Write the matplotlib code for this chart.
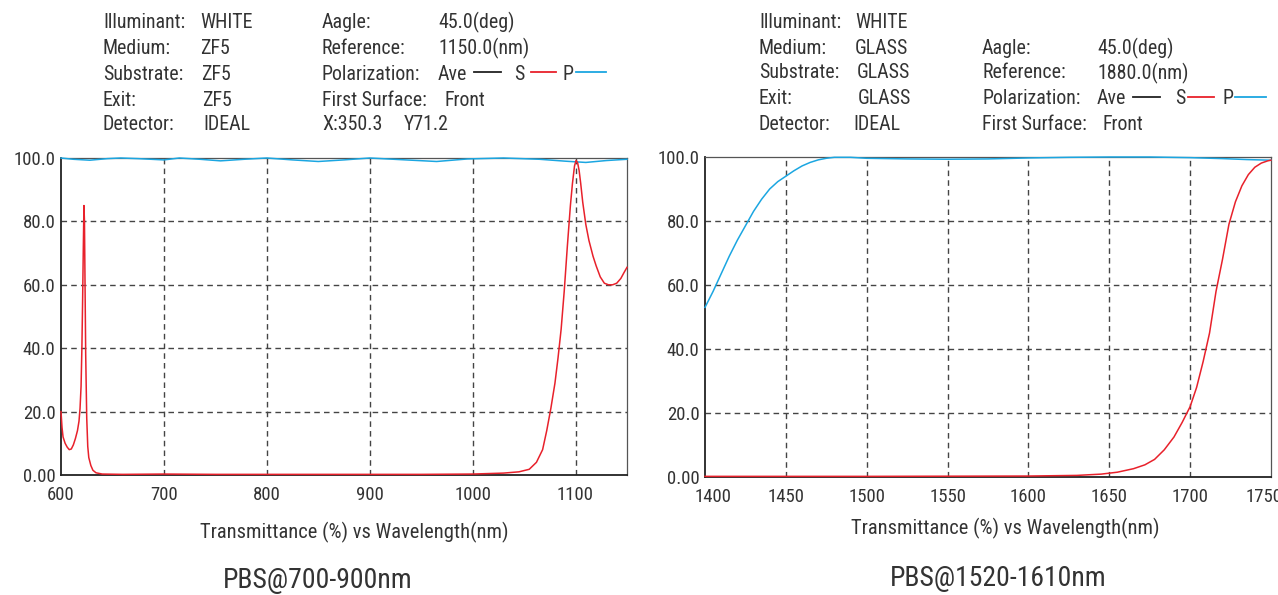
import numpy as np
import matplotlib
matplotlib.use("Agg")
import matplotlib.pyplot as plt
from matplotlib import font_manager
from matplotlib.lines import Line2D
from matplotlib.transforms import ScaledTranslation

# pick a narrow sans if one is around
names = {f.name for f in font_manager.fontManager.ttflist}
base = "DejaVu Sans"
for cand in ["Liberation Sans Narrow", "Roboto Condensed", "Open Sans Condensed", "DejaVu Sans"]:
    if cand in names:
        base = cand
        break
plt.rcParams["font.family"] = [base, "DejaVu Sans"]
if base == "DejaVu Sans":
    plt.rcParams["font.stretch"] = "condensed"

W, H = 1278, 595
TXT = "#333333"
RED = "#e8212b"
BLUE = "#1ba6e1"

# ---- left panel: PBS@700-900nm ----
wl_a_p = [600, 612, 628, 645, 658, 675, 700, 715, 735, 755, 778, 800, 825, 850,
          875, 900, 935, 965, 995, 1030, 1065, 1090, 1110, 1130, 1150]
t_a_p = [100, 99.6, 99.3, 99.8, 100, 99.8, 99.4, 100, 99.6, 99.1, 99.6, 100, 99.4, 98.9,
         99.4, 100, 99.4, 98.9, 99.7, 100, 99.6, 99.0, 98.6, 99.2, 99.6]
wl_a_s = [600, 601, 602, 604, 606, 608, 610, 612, 614, 616, 617.5, 618.5, 619.5, 620.3, 621,
          621.7, 622.3, 622.8, 623.3, 624, 625, 626, 627, 629, 631, 634, 640, 660, 700, 750,
          800, 850, 900, 950, 1000, 1030, 1045, 1055, 1062, 1068, 1072, 1076, 1080,
          1083, 1086, 1089, 1092, 1095, 1097, 1099, 1100.5, 1102, 1103.5, 1105, 1107, 1110,
          1113, 1117, 1120, 1124, 1128, 1132, 1136, 1140, 1144, 1147, 1150]
t_a_s = [20, 15, 12, 10, 8.8, 8.0, 8.2, 9.5, 11.5, 14, 17, 21, 28, 40, 55,
         72, 85, 80, 62, 38, 18, 9, 5.5, 3, 1.5, 0.7, 0.3, 0.2, 0.3, 0.2,
         0.2, 0.2, 0.2, 0.2, 0.3, 0.6, 1.0, 1.8, 4, 8, 14, 21, 29,
         37, 46, 58, 72, 85, 92, 97.5, 99.2, 98.5, 96, 92, 86, 79,
         74, 69, 66, 62.5, 60.5, 60, 60, 60.5, 62, 63.8, 65.5]

# ---- right panel: PBS@1520-1610nm ----
wl_b_p = [1400, 1405, 1410, 1415, 1420, 1425, 1430, 1435, 1440, 1445, 1450, 1455, 1460,
          1465, 1470, 1475, 1480, 1490, 1500, 1525, 1550, 1575, 1600, 1625, 1650, 1675,
          1700, 1720, 1735, 1750]
t_b_p = [53, 58, 63.5, 69, 74, 78.5, 83, 86.8, 90, 92.3, 94, 95.7, 97.2,
         98.3, 99.1, 99.6, 99.9, 99.9, 99.6, 99.4, 99.3, 99.4, 99.7, 99.9, 100, 100,
         99.8, 99.5, 99.2, 99.0]
wl_b_s = [1400, 1500, 1600, 1630, 1645, 1655, 1665, 1672, 1678, 1684, 1690, 1695, 1700,
          1704, 1708, 1712, 1716, 1720, 1724, 1728, 1732, 1736, 1740, 1744, 1748, 1750]
t_b_s = [0.2, 0.2, 0.3, 0.5, 0.9, 1.5, 2.6, 3.8, 5.5, 8.5, 12.5, 17, 22,
         28, 36, 45, 58, 68, 79, 86, 91, 94.5, 96.8, 98.1, 98.8, 99.0]

yticks = [0, 20, 40, 60, 80, 100]
ylabels = ["0.00", "20.0", "40.0", "60.0", "80.0", "100.0"]

left_info = [("Illuminant:", "WHITE", 200), ("Medium:", "ZF5", 200), ("Substrate:", "ZF5", 201),
             ("Exit:", "ZF5", 202), ("Detector:", "IDEAL", 203)]
right_info = [("Illuminant:", "WHITE", 855), ("Medium:", "GLASS", 855), ("Substrate:", "GLASS", 857),
              ("Exit:", "GLASS", 858), ("Detector:", "IDEAL", 853)]

fig = plt.figure(figsize=(W / 100, H / 100), dpi=100)


def px(x, y):
    return x / W, 1 - y / H


def put(x, y, s, size=14.3, **kw):
    fig.text(*px(x, y + 2), s, fontsize=size, color=TXT, va="center", ha=kw.pop("ha", "left"), **kw)


def pol_legend(x0, y, xs):
    put(x0, y, "Polarization:")
    ave, k0, k1, s_x, r0, r1, p_x, b0, b1 = xs
    put(ave, y, "Ave")
    put(s_x, y, "S")
    put(p_x, y, "P")
    for a, b, c in [(k0, k1, "#222222"), (r0, r1, RED), (b0, b1, BLUE)]:
        fig.add_artist(Line2D([a / W, b / W], [1 - y / H, 1 - y / H], color=c, lw=1.3,
                              transform=fig.transFigure))


def panel(rect, xlim, xticks, grid_x, curves):
    ax = fig.add_axes(rect)
    for wl, t, c in curves:
        ax.plot(wl, t, color=c, lw=1.1, clip_on=False, zorder=3)
    ax.set_xlim(*xlim)
    ax.set_ylim(0, 100)
    ax.set_xticks(xticks)
    ax.set_xticklabels([str(v) for v in xticks])
    ax.set_yticks(yticks)
    ax.set_yticklabels(ylabels)
    ax.tick_params(length=0, labelsize=13.5, colors=TXT)
    ax.tick_params(axis="x", pad=8)
    ax.tick_params(axis="y", pad=4)
    for g in grid_x:
        ax.axvline(g, color="#444444", lw=1.0, ls=(0, (4, 3)), zorder=1)
    for g in yticks[1:-1]:
        ax.axhline(g, color="#444444", lw=1.0, ls=(0, (4, 3)), zorder=1)
    ax.spines["left"].set_color("#222222")
    ax.spines["bottom"].set_color("#222222")
    ax.spines["left"].set_linewidth(1.3)
    ax.spines["bottom"].set_linewidth(1.3)
    ax.spines["top"].set_color("#555555")
    ax.spines["right"].set_color("#555555")
    ax.spines["top"].set_linewidth(0.9)
    ax.spines["right"].set_linewidth(0.9)
    return ax


ax1 = panel([61 / W, 1 - 475 / H, 566 / W, 317 / H], (600, 1150),
            [600, 700, 800, 900, 1000, 1100], [700, 800, 900, 1000, 1100],
            [(wl_a_p, t_a_p, BLUE), (wl_a_s, t_a_s, RED)])
ax2 = panel([705 / W, 1 - 477 / H, 566 / W, 320 / H], (1400, 1750),
            [1400, 1450, 1500, 1550, 1600, 1650, 1700, 1750],
            [1450, 1500, 1550, 1600, 1650, 1700],
            [(wl_b_p, t_b_p, BLUE), (wl_b_s, t_b_s, RED)])
labs = ax2.get_xticklabels()
labs[0].set_transform(labs[0].get_transform() + ScaledTranslation(8 / 100, 0, fig.dpi_scale_trans))
labs[-1].set_transform(labs[-1].get_transform() + ScaledTranslation(-7 / 100, 0, fig.dpi_scale_trans))

# header blocks
for i, (k, v, vx) in enumerate(left_info):
    y = [20, 46, 72, 98, 123][i]
    put(103, y, k)
    put(vx, y, v)
put(322, 20, "Aagle:")
put(438, 20, "45.0(deg)")
put(322, 46, "Reference:")
put(438, 46, "1150.0(nm)")
pol_legend(322, 72, [438, 474, 501, 514, 531, 556, 562, 576, 606])
put(322, 98, "First Surface:")
put(445, 98, "Front")
put(322, 123, "X:350.3")
put(404, 123, "Y71.2")

for i, (k, v, vx) in enumerate(right_info):
    y = [20, 46, 71, 97, 122][i]
    put(759, y, k)
    put(vx, y, v)
put(982, 46, "Aagle:")
put(1097, 46, "45.0(deg)")
put(982, 71, "Reference:")
put(1097, 71, "1880.0(nm)")
pol_legend(982, 97, [1097, 1133, 1160, 1175, 1188, 1214, 1222, 1235, 1266])
put(982, 122, "First Surface:")
put(1103, 122, "Front")

# axis captions
put(354, 530, "Transmittance (%) vs Wavelength(nm)", size=14.8, ha="center")
put(1005, 526, "Transmittance (%) vs Wavelength(nm)", size=14.8, ha="center")
put(318, 578, "PBS@700-900nm", size=20, ha="center")
put(998, 577, "PBS@1520-1610nm", size=20, ha="center")

fig.savefig("out.png", dpi=100)
